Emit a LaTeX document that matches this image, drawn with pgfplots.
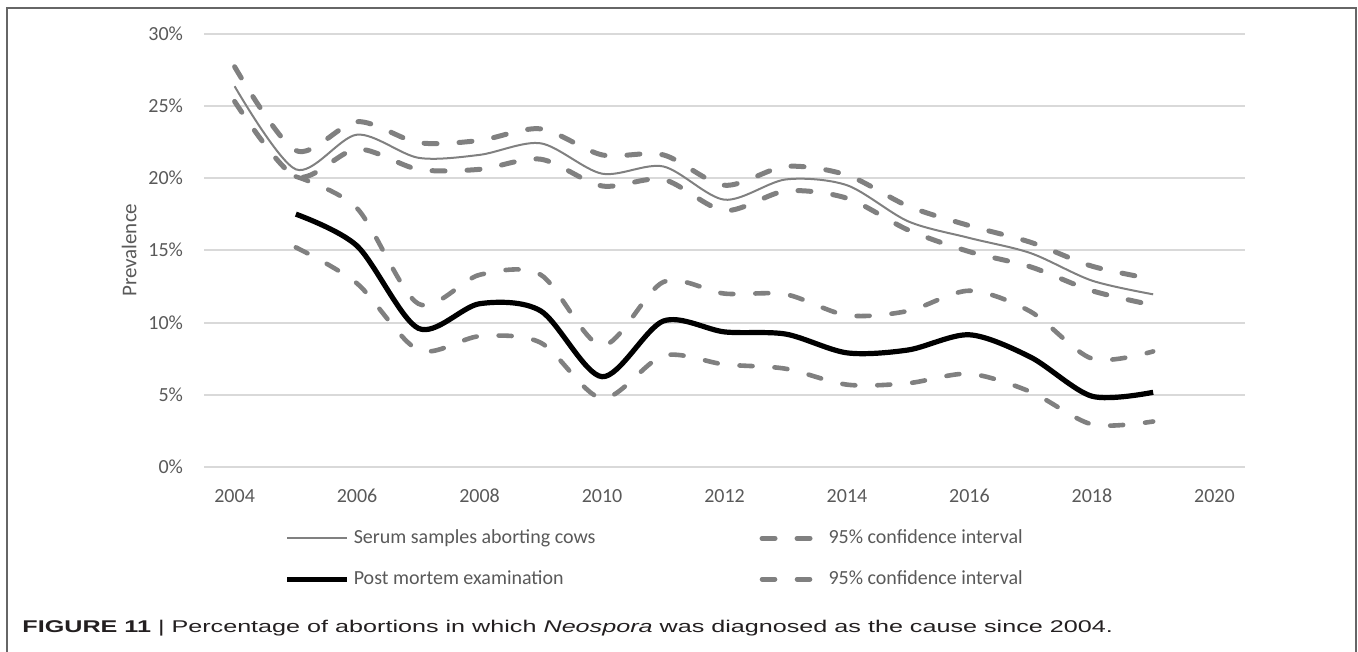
\documentclass[border=0pt]{standalone}
\usepackage{pgfplots}
\usepackage{pgfplotstable}
\pgfplotsset{compat=1.18}
\usepackage{fontspec}
\setmainfont{Carlito}
\newfontfamily\capfont[FakeStretch=1.48]{Liberation Sans}

\definecolor{linegray}{HTML}{808080}
\definecolor{gridgray}{HTML}{D9D9D9}
\definecolor{textgray}{HTML}{595959}
\definecolor{framegray}{HTML}{666666}
\definecolor{captext}{HTML}{231F20}

% Serum samples from aborting cows, with 95% confidence bounds (%)
\pgfplotstableread{
year serum hi lo
2004 26.35 27.7 25.3
2005 20.6 21.9 20.1
2006 23.0 23.9 22.0
2007 21.4 22.45 20.6
2008 21.6 22.6 20.6
2009 22.4 23.4 21.3
2010 20.3 21.6 19.45
2011 20.8 21.6 19.9
2012 18.5 19.5 17.75
2013 19.9 20.8 19.1
2014 19.5 20.2 18.6
2015 17.0 18.05 16.4
2016 15.85 16.7 14.9
2017 14.8 15.55 13.85
2018 12.9 13.9 12.2
2019 11.95 13.0 11.2
}\serumtable

% Post mortem examinations, with 95% confidence bounds (%)
\pgfplotstableread{
year pm hi lo
2005 17.5 20.1 15.2
2006 15.3 17.9 12.7
2007 9.6 11.3 8.1
2008 11.3 13.3 9.05
2009 10.8 13.3 8.6
2010 6.25 8.4 4.75
2011 10.1 12.8 7.7
2012 9.35 12.0 7.1
2013 9.2 11.95 6.8
2014 7.9 10.5 5.7
2015 8.1 10.8 5.8
2016 9.15 12.2 6.45
2017 7.6 10.75 5.2
2018 4.9 7.5 2.95
2019 5.17 8.0 3.15
}\pmtable

\tikzset{
  cidash/.style={linegray, line width=#1, line cap=round, dash pattern=on 6.5pt off 11pt, smooth, tension=0.5},
}

\begin{document}
\begin{tikzpicture}
\useasboundingbox (0,0) rectangle (679pt,-326pt);
\draw[framegray, line width=1pt] (3.6pt,-330pt) -- (3.6pt,-4pt) -- (678pt,-4pt) -- (678pt,-330pt);

\begin{axis}[
  at={(102pt,-233.5pt)}, anchor=south west,
  scale only axis, width=520.5pt, height=216.75pt,
  xmin=2003.5, xmax=2020.5, ymin=0, ymax=30,
  xtick={2004,2006,...,2020}, ytick={0,5,...,30},
  axis line style={draw=none}, tick style={draw=none},
  ymajorgrids, grid style={gridgray, line width=1pt},
  /pgf/number format/assume math mode=true,
  tick label style={font=\fontsize{10}{12}\selectfont, text=textgray},
  xticklabel style={/pgf/number format/1000 sep={}, yshift=-7.5pt},
  yticklabel style={xshift=-7pt},
  yticklabel={\pgfmathprintnumber{\tick}\%},
  ylabel={Prevalence},
  ylabel style={at={(axis description cs:-0.072,0.5)}, anchor=center, font=\fontsize{10.5}{12}\selectfont, text=textgray},
  legend columns=2,
  legend cell align=left,
  legend style={draw=none, fill=none, at={(axis description cs:0.077,-0.135)}, anchor=north west,
    font=\fontsize{10}{12}\selectfont, text=textgray, inner sep=0pt,
    /tikz/every even column/.append style={column sep=80pt},
    /tikz/every odd column/.append style={column sep=0pt},
    row sep=8pt},
  legend image code/.code={\draw[#1, smooth=false] (0pt,0pt) -- (30pt,0pt);},
]
\addplot[linegray, line width=1pt, smooth, tension=0.5] table[x=year, y=serum] {\serumtable};
\addlegendentry{Serum samples aborting cows}
\addplot[cidash=2.5pt] table[x=year, y=hi] {\serumtable};
\addlegendentry{95\% confidence interval}
\addplot[cidash=2.5pt, forget plot] table[x=year, y=lo] {\serumtable};
\addplot[black, line width=2.6pt, smooth, tension=0.5] table[x=year, y=pm] {\pmtable};
\addlegendentry{Post mortem examination}
\addplot[cidash=2.3pt] table[x=year, y=hi] {\pmtable};
\addlegendentry{95\% confidence interval}
\addplot[cidash=2.3pt, forget plot] table[x=year, y=lo] {\pmtable};
\end{axis}

\node[anchor=west, inner sep=0pt, text=captext] at (11pt,-314pt)
  {\capfont\fontsize{8.5}{10}\selectfont\textbf{FIGURE 11} | Percentage of abortions in which \textit{Neospora} was diagnosed as the cause since 2004.};
\end{tikzpicture}
\end{document}
